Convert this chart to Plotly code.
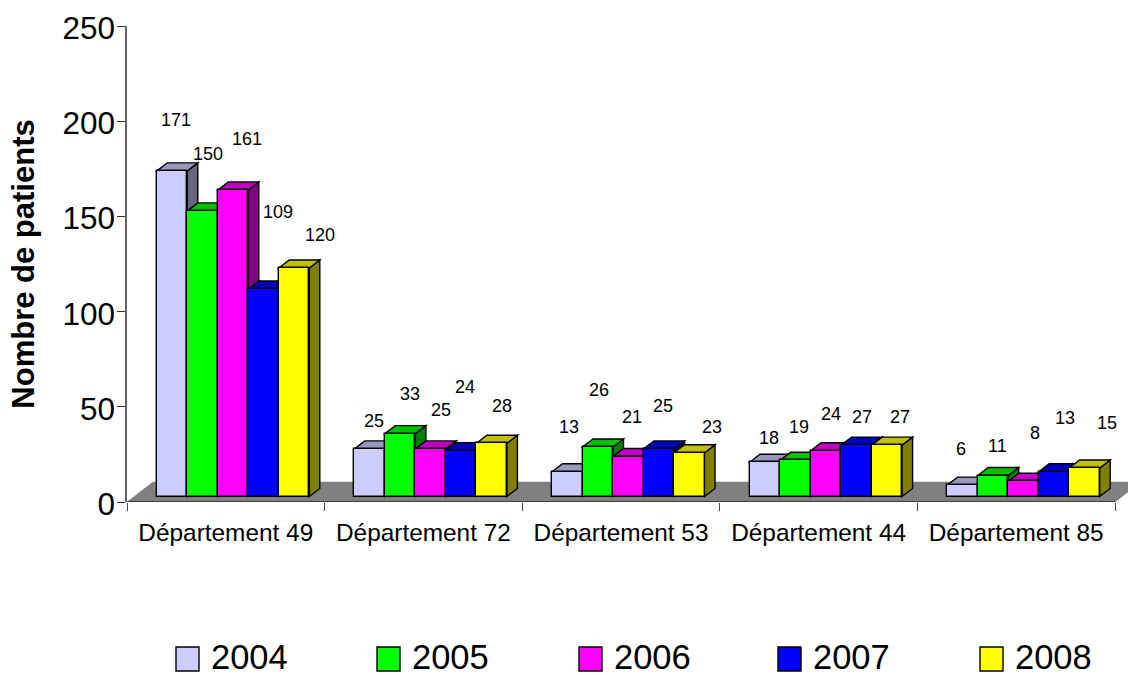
import plotly.graph_objects as go

# ---- data ----
departments = ["Département 49", "Département 72", "Département 53", "Département 44", "Département 85"]
years = ["2004", "2005", "2006", "2007", "2008"]
v2004 = [171, 25, 13, 18, 6]
v2005 = [150, 33, 26, 19, 11]
v2006 = [161, 25, 21, 24, 8]
v2007 = [109, 24, 25, 27, 13]
v2008 = [120, 28, 23, 27, 15]
series = [v2004, v2005, v2006, v2007, v2008]
y_ticks = [0, 50, 100, 150, 200, 250]

# ---- style: front / top / side face colours ----
front = ["#CCCCFF", "#00FF00", "#FF00FF", "#0000FF", "#FFFF00"]
top = ["#9999C0", "#00C000", "#C000C0", "#0000C0", "#C0C000"]
side = ["#666680", "#008000", "#800080", "#000080", "#808000"]

# ---- layout geometry (pixels of the 1128x675 page) ----
W, H = 1128, 675
L, R_EDGE, T, B = 127, 1128, 26, 502
CAT_PX = 197.6
X_MAX = (R_EDGE - L) / CAT_PX
Y_PX = (B - T) / 250


def xd(px):
    return (px - L) / CAT_PX


def yd(py):
    return (B - py) / Y_PX


BAR_W = 30.5 / CAT_PX
BAR_START = 29.8 / CAT_PX
BASE = 5.5 / Y_PX        # bars stand a little behind the front edge of the floor
DX, DY = 10.5 / CAT_PX, 8 / Y_PX
FLOOR_DX, FLOOR_DY = 26 / CAT_PX, 20 / Y_PX

# hand-placed data labels in the reference (page pixels of each label's centre)
label_px = [
    [(176, 120), (374, 421), (569, 427), (769, 438), (961, 449)],
    [(208, 154), (410, 394), (599, 390), (799, 427), (997, 446)],
    [(247, 139), (441, 410), (632, 417), (831, 414), (1035, 433)],
    [(278, 212), (465, 387), (663, 406), (862, 417), (1065, 418)],
    [(320, 235), (502, 406), (712, 427), (900, 417), (1107, 423)],
]

ANCHORS = list(range(len(departments)))
fig = go.Figure()
shapes = []
annotations = []

# floor
shapes.append(dict(
    type="path", layer="below", xref="x", yref="y",
    path=f"M 0 0 L {FLOOR_DX} {FLOOR_DY} L {5 + FLOOR_DX} {FLOOR_DY} L 5 0 Z",
    fillcolor="#808080", line=dict(color="#808080", width=0.5),
))

edge = dict(color="black", width=1.4)
for k in ANCHORS:
    for j, name in enumerate(years):
        x0 = k + BAR_START + j * BAR_W
        x1 = x0 + BAR_W
        y1 = BASE + series[j][k]
        shapes.append(dict(
            type="path", layer="below", xref="x", yref="y", line=edge, fillcolor=side[j],
            path=f"M {x1} {BASE} L {x1 + DX} {BASE + DY} L {x1 + DX} {y1 + DY} L {x1} {y1} Z",
        ))
        shapes.append(dict(
            type="path", layer="below", xref="x", yref="y", line=edge, fillcolor=top[j],
            path=f"M {x0} {y1} L {x0 + DX} {y1 + DY} L {x1 + DX} {y1 + DY} L {x1} {y1} Z",
        ))

for j, name in enumerate(years):
    fig.add_trace(go.Bar(
        name=name,
        x=[k + BAR_START + (j + 0.5) * BAR_W for k in ANCHORS],
        y=series[j],
        base=BASE,
        width=BAR_W,
        marker=dict(color=front[j], line=dict(color="black", width=1.4)),
        showlegend=False,
    ))
    for k in ANCHORS:
        px, py = label_px[j][k]
        annotations.append(dict(
            x=xd(px), y=yd(py), xref="x", yref="y", text=str(series[j][k]),
            showarrow=False, font=dict(family="Liberation Sans, Arial", size=18, color="black"),
        ))

# x axis baseline, ending at the last tick
shapes.append(dict(type="line", layer="above", xref="x", yref="y", x0=0, x1=5, y0=0, y1=0,
                   line=dict(color="black", width=1)))

# legend
legend_x = [176, 377, 579, 778, 980]
for j, name in enumerate(years):
    lx = legend_x[j]
    shapes.append(dict(type="rect", xref="paper", yref="paper", layer="above",
                       x0=(lx - L) / (R_EDGE - L), x1=(lx + 23 - L) / (R_EDGE - L),
                       y0=(B - 671) / (B - T), y1=(B - 647) / (B - T),
                       fillcolor=front[j], line=dict(color="black", width=1.4)))
    annotations.append(dict(
        x=(lx + 36 - L) / (R_EDGE - L), y=(B - 657) / (B - T), xref="paper", yref="paper",
        text=name, showarrow=False, xanchor="left", yanchor="middle", xshift=-3,
        font=dict(family="Liberation Sans, Arial", size=34.5, color="black"),
    ))

fig.update_layout(
    width=W, height=H, autosize=False,
    margin=dict(l=L, r=W - R_EDGE, t=T, b=H - B, pad=0),
    paper_bgcolor="white", plot_bgcolor="white",
    barmode="overlay", bargap=0,
    shapes=shapes, annotations=annotations, showlegend=False,
    font=dict(family="Liberation Sans, Arial", color="black"),
    xaxis=dict(
        range=[0, X_MAX], showgrid=False, zeroline=False, showline=False,
        tickmode="array", tickvals=[k + 0.5 for k in ANCHORS], ticktext=departments,
        ticks="", tickfont=dict(size=24.4), ticklabelstandoff=14,
        minor=dict(tickmode="array", tickvals=list(range(6)), ticks="outside",
                   ticklen=8, tickcolor="#444", tickwidth=1, showgrid=False),
    ),
    yaxis=dict(
        range=[0, 250], showgrid=False, zeroline=False, showline=True,
        linecolor="#666", linewidth=1.5,
        tickmode="array", tickvals=y_ticks, ticks="outside", ticklen=8, tickcolor="#333",
        tickwidth=1, tickfont=dict(size=31.5), ticklabelstandoff=-4, ticklabelshift=2,
        title=dict(text="<b>Nombre de patients</b>", font=dict(size=31), standoff=19),
    ),
)
fig.write_html(
    "out.html",
    config={"displayModeBar": False},
    post_script="document.body.style.margin='0';window.dispatchEvent(new Event('resize'));",
)
